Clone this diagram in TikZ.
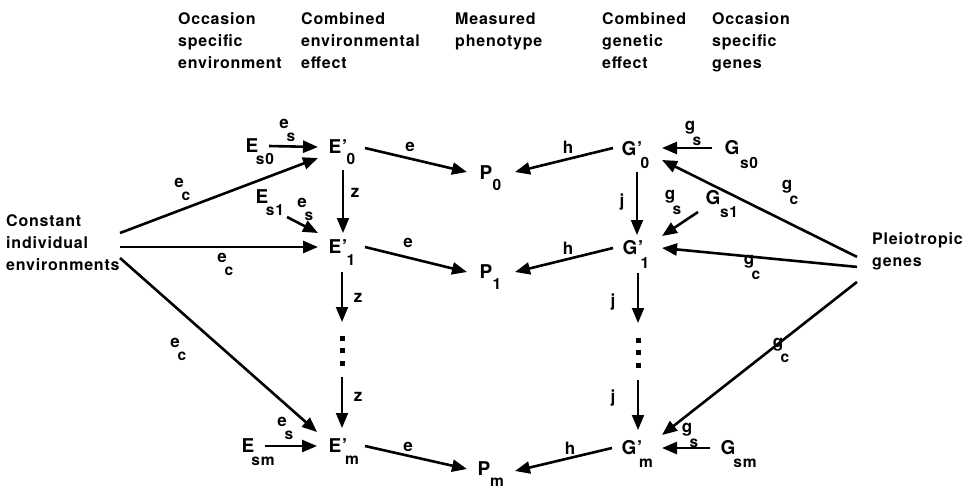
\documentclass[tikz,border=0pt]{standalone}
\usepackage{fontspec}
\setmainfont{TeX Gyre Heros}[LetterSpace=5]
\usetikzlibrary{arrows.meta,calc}

% symbol with a lowered index: name, x, y, letter, index, dx, dy
\newcommand\symnode[7]{%
  \node[symb] (#1) at (#2,#3) {#4};
  \node[symsub] (#1-sub) at (#2+#6,#3+#7) {#5};}
% path coefficient with a lowered index: name, x, y, letter, index
\newcommand\coef[5]{%
  \node[lab] (#1) at (#2,#3) {#4};
  \node[labsub] (#1-sub) at (#2+7,#3+13) {#5};}

\tikzset{
  symb/.style={inner sep=0pt, font=\fontsize{19}{21}\selectfont\bfseries},
  symsub/.style={inner sep=0pt, font=\fontsize{15.5}{17}\selectfont\bfseries},
  lab/.style={inner sep=0pt, font=\fontsize{17}{19}\selectfont\bfseries},
  labsub/.style={inner sep=0pt, font=\fontsize{15.5}{17}\selectfont\bfseries},
  head/.style={inner sep=0pt, align=left, font=\fontsize{16}{22}\selectfont\bfseries},
  arr/.style={line width=2.6pt, -{Triangle[length=15pt,width=12pt]}},
  varr/.style={line width=1.9pt, -{Triangle[length=15pt,width=12pt]}},
  dotsq/.style={fill=black},
}

\begin{document}
\begin{tikzpicture}[x=1pt,y=-1pt]
\useasboundingbox[fill=white] (0,0) rectangle (973,491);

% column headings
\node[head, anchor=north east] (h1) at (282,12.5) {Occasion\\specific\\environment};
\node[head, anchor=north west] (h2) at (301,12.5) {Combined\\environmental\\effect};
\node[head, anchor=north west] (h3) at (455,12.5) {Measured\\phenotype};
\node[head, anchor=north west] (h4) at (602,12.5) {Combined\\genetic\\effect};
\node[head, anchor=north west] (h5) at (712,12.5) {Occasion\\specific\\genes};

% side sources
\node[head, anchor=west] (cie) at (6,243) {Constant\\individual\\environments};
\node[head, anchor=north west] (pg) at (872,232.5) {Pleiotropic\\genes};

% occasion specific environments
\symnode{Es0}{252}{146}{E}{s0}{13}{13}
\symnode{Es1}{262}{197}{E}{s1}{13}{13}
\symnode{Esm}{248}{446}{E}{sm}{15}{15}

% combined environmental effects
\symnode{E0}{338}{147}{E'}{0}{13}{12}
\symnode{E1}{338}{247}{E'}{1}{13}{13}
\symnode{Em}{338}{446}{E'}{m}{14}{14}

% measured phenotypes
\symnode{P0}{486}{173}{P}{0}{11}{12}
\symnode{P1}{486}{272}{P}{1}{11}{12}
\symnode{Pm}{484}{469}{P}{m}{13}{13}

% combined genetic effects
\symnode{G0}{632}{149}{G'}{0}{13}{14}
\symnode{G1}{633}{248}{G'}{1}{12}{15}
\symnode{Gm}{632}{448}{G'}{m}{14}{15}

% occasion specific genes
\symnode{Gs0}{732}{148}{G}{s0}{17}{15}
\symnode{Gs1}{713}{198}{G}{s1}{16}{14}
\symnode{Gsm}{728}{448}{G}{sm}{17}{15}

% elided occasions
\node[inner sep=0pt] (Edots) at (342,350) {};
\node[inner sep=0pt] (Gdots) at (638,352) {};
\foreach \d in {-12,0,13} {
  \fill[dotsq] ($(Edots)+(-2.5,\d-2.5)$) rectangle +(5,5);
  \fill[dotsq] ($(Gdots)+(-2.5,\d-2.5)$) rectangle +(5,5);
}

% environmental paths
\draw[arr] ($(Es0)+(17,0)$) -- ($(E0)+(-20,0)$);
\draw[arr] ($(cie.west)+(114,-10)$) -- ($(E0)+(-20,11)$);
\draw[arr] ($(cie.west)+(114,4)$) -- ($(E1)+(-20,0)$);
\draw[arr] ($(cie.west)+(114,15)$) -- ($(Em)+(-21,-14)$);
\draw[arr] ($(Es1)+(25,20)$) -- ($(E1)+(-20,-14)$);
\draw[arr] ($(Esm)+(17,0)$) -- ($(Em)+(-21,0)$);
\draw[varr] ($(E0)+(5,23)$) -- ($(E1)+(5,-14)$);
\draw[varr] ($(E1)+(4,25)$) -- ($(Edots)+(0,-28)$);
\draw[varr] ($(Edots)+(0,27)$) -- ($(Em)+(4,-18)$);
\draw[arr] ($(E0)+(27,1)$) -- ($(P0)+(-19,-1)$);
\draw[arr] ($(E1)+(27,0)$) -- ($(P1)+(-19,0)$);
\draw[arr] ($(Em)+(27,0)$) -- ($(Pm)+(-17,0)$);

% genetic paths
\draw[arr] ($(G0)+(-19,-1)$) -- ($(P0)+(29,-1)$);
\draw[arr] ($(G1)+(-20,0)$) -- ($(P1)+(29,0)$);
\draw[arr] ($(Gm)+(-20,0)$) -- ($(Pm)+(31,2)$);
\draw[varr] ($(G0)+(5,23)$) -- ($(G1)+(4,-13)$);
\draw[varr] ($(G1)+(5,25)$) -- ($(Gdots)+(0,-29)$);
\draw[varr] ($(Gdots)+(0,28)$) -- ($(Gm)+(6,-18)$);
\draw[arr] ($(Gs0)+(-20,0)$) -- ($(G0)+(30,-1)$);
\draw[arr] ($(Gs1)+(-15,14)$) -- ($(G1)+(29,-12)$);
\draw[arr] ($(Gsm)+(-18,0)$) -- ($(Gm)+(30,0)$);
\draw[arr] ($(pg.west)+(-15,5.5)$) -- ($(G0)+(30,11)$);
\draw[arr] ($(pg.west)+(-15,15.5)$) -- ($(G1)+(29,0)$);
\draw[arr] ($(pg.west)+(-15,30.5)$) -- ($(Gm)+(30,-13)$);

% path coefficients
\coef{es0}{284}{124}{e}{s}
\coef{ec0}{179}{183}{e}{c}
\coef{ec1}{222}{258}{e}{c}
\coef{ecm}{175}{343}{e}{c}
\coef{es1}{302}{203}{e}{s}
\coef{esm}{282}{422}{e}{s}
\node[lab] (z1) at (355,193) {z};
\node[lab] (z2) at (358,298) {z};
\node[lab] (z3) at (358,397) {z};
\node[lab] (e0) at (410,147) {e};
\node[lab] (e1) at (408,243) {e};
\node[lab] (em) at (408,447) {e};
\node[lab] (h0) at (568,147) {h};
\node[lab] (h1l) at (568,248) {h};
\node[lab] (hm) at (570,448) {h};
\node[lab] (j1) at (622,202) {j};
\node[lab] (j2) at (613,302) {j};
\node[lab] (j3) at (613,398) {j};
\coef{gs0}{690}{128}{g}{s}
\coef{gs1}{670}{197}{g}{s}
\coef{gsm}{687}{430}{g}{s}
\coef{gc0}{787}{187}{g}{c}
\coef{gc1}{749}{262}{g}{c}
\coef{gcm}{778}{345}{g}{c}
\end{tikzpicture}
\end{document}
